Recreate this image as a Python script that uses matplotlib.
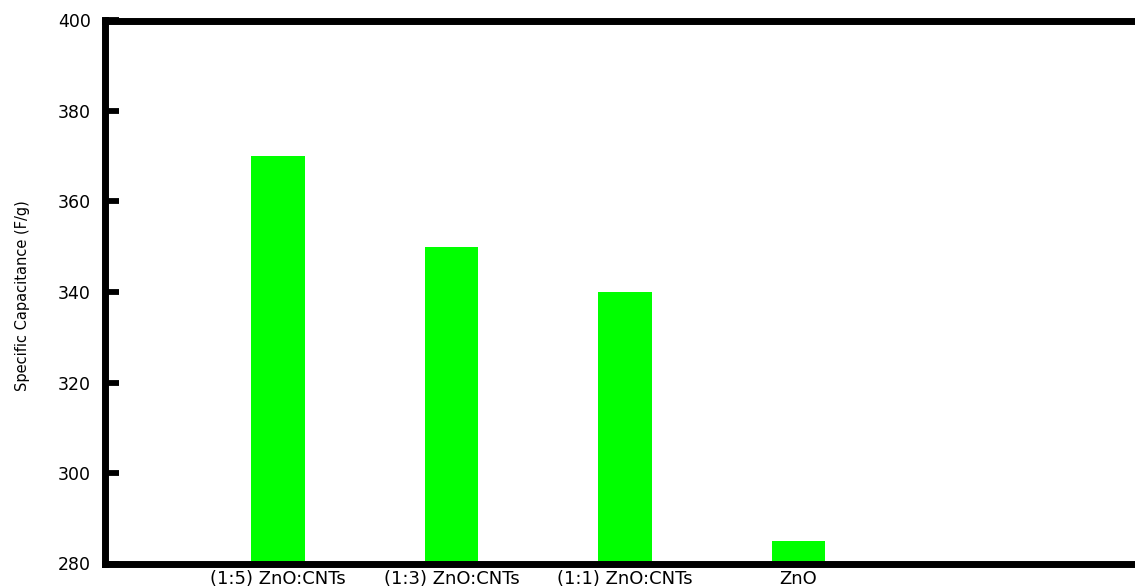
import matplotlib
matplotlib.use("Agg")
import matplotlib.pyplot as plt

# Specific capacitance of each sample
samples = ["(1:5) ZnO:CNTs", "(1:3) ZnO:CNTs", "(1:1) ZnO:CNTs", "ZnO"]
capacitance = [370, 350, 340, 285]
y_ticks = [280, 300, 320, 340, 360, 380, 400]

plt.rcParams["font.family"] = ["DejaVu Sans"]

fig = plt.figure(figsize=(11.35, 5.87), dpi=100)
# axes run a little past the right edge of the canvas
ax = fig.add_axes([104.5 / 1135, 23.5 / 587, 1041 / 1135, 543 / 587])

positions = range(1, len(samples) + 1)
ax.bar(positions, capacitance, width=0.31, color="#00ff00", zorder=1)

ax.set_xlim(0, 6)
ax.set_ylim(280, 400)
ax.set_yticks(y_ticks)
ax.set_xticks(list(positions))
ax.set_xticklabels(samples, fontsize=13)

for side in ax.spines.values():
    side.set_linewidth(5.0)
    side.set_color("black")
    side.set_zorder(3)

ax.tick_params(axis="y", direction="in", length=10, width=4.2, pad=10,
               labelsize=12.5, color="black")
ax.tick_params(axis="x", length=0, pad=5)

ax.set_ylabel("Specific Capacitance (F/g)", fontsize=10.5)
ax.yaxis.set_label_coords(-0.0716, 0.493)

fig.savefig("out.png", dpi=100)
